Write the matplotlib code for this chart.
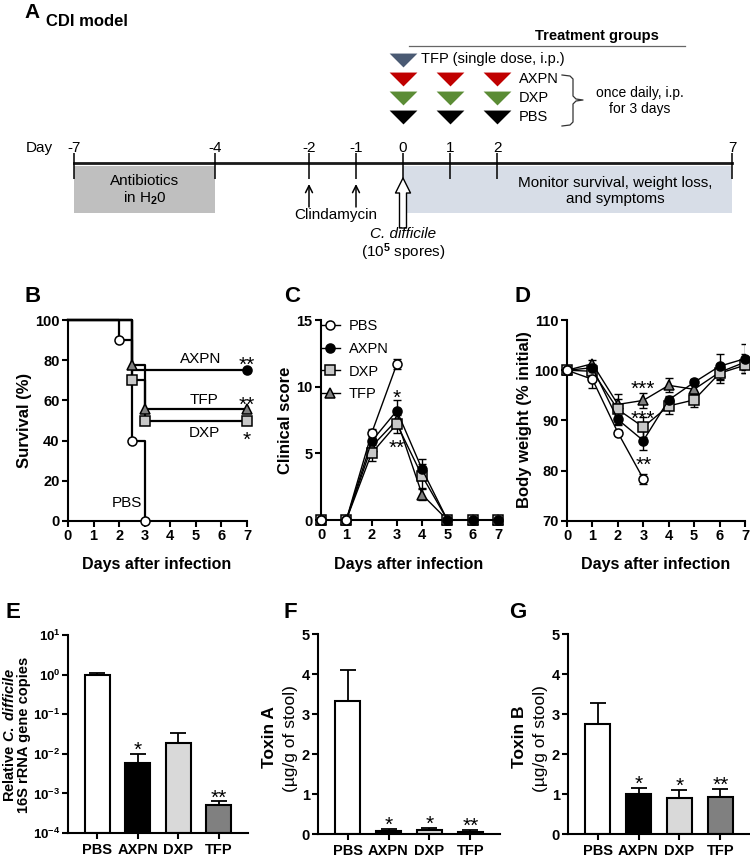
import matplotlib
matplotlib.use('Agg')
import matplotlib.pyplot as plt
from matplotlib.patches import Rectangle
from matplotlib.ticker import NullLocator
import numpy as np

plt.rcParams.update({
    'font.family': ['Liberation Sans', 'DejaVu Sans'],
    'font.weight': 'bold',
    'mathtext.fontset': 'custom',
    'mathtext.rm': 'Liberation Sans',
    'mathtext.it': 'Liberation Sans:italic:bold',
    'mathtext.bf': 'Liberation Sans:bold',
    'axes.linewidth': 1.5,
})

# ---------------- data ----------------
groups = ['PBS', 'AXPN', 'DXP', 'TFP']

# Panel A (study design, in days)
timeline_days = [-7, -4, -2, -1, 0, 1, 2, 7]
antibiotic_days = [-7, -4]
monitor_days = [0, 7]
clindamycin_days = [-2, -1]
infection_day = 0
tfp_dose_days = [0]
daily_dose_days = [0, 1, 2]
daily_groups = ['AXPN', 'DXP', 'PBS']

# Panel B: survival (%)
surv_PBS_t = [0, 2, 2.5, 3]
surv_PBS = [100, 90, 40, 0]
surv_AXPN_t = [0, 2.5, 7]
surv_AXPN = [100, 75, 75]
surv_DXP_t = [0, 2.5, 3, 7]
surv_DXP = [100, 70, 50, 50]
surv_TFP_t = [0, 2.5, 3, 7]
surv_TFP = [100, 77.8, 55.6, 55.6]

# Panel C: clinical score
days = [0, 1, 2, 3, 4, 5, 6, 7]
clin_PBS = [0, 0, 6.5, 11.7]
clin_PBS_err = [0, 0, 0.3, 0.4]
clin_AXPN = [0, 0, 5.9, 8.2, 3.8, 0, 0, 0]
clin_AXPN_err = [0, 0, 0.5, 0.8, 0.8, 0, 0, 0]
clin_DXP = [0, 0, 5.0, 7.2, 3.3, 0, 0, 0]
clin_DXP_err = [0, 0, 0.6, 0.7, 0.9, 0, 0, 0]
clin_TFP = [0, 0, 5.5, 7.5, 1.9, 0, 0, 0]
clin_TFP_err = [0, 0, 0.5, 0.6, 0.4, 0, 0, 0]

# Panel D: body weight (% initial)
wt_PBS = [100, 98.2, 87.6, 78.4]
wt_PBS_err = [0, 1.8, 0.5, 1.0]
wt_AXPN = [100, 100.5, 90.2, 86.0, 94.1, 97.6, 100.8, 102.3]
wt_AXPN_err = [0, 0.8, 0.8, 1.9, 0.8, 0.6, 2.5, 2.9]
wt_DXP = [100, 99.8, 92.2, 88.7, 92.9, 94.1, 99.4, 101.0]
wt_DXP_err = [0, 1.0, 3.0, 2.0, 1.6, 1.4, 1.9, 1.6]
wt_TFP = [100, 101.3, 93.2, 94.0, 97.0, 96.2, 99.6, 101.6]
wt_TFP_err = [0, 0.8, 1.0, 1.5, 1.4, 1.0, 1.5, 1.6]

# Panel E: relative C. difficile 16S rRNA copies
cdiff_rel = [1.0, 0.0058, 0.019, 0.00052]
cdiff_err = [0.12, 0.0040, 0.014, 0.00011]
stars_E = ['', '*', '', '**']
# Panel F: toxin A (ug/g stool)
toxA = [3.33, 0.08, 0.10, 0.05]
toxA_err = [0.77, 0.05, 0.06, 0.05]
stars_F = ['', '*', '*', '**']
# Panel G: toxin B (ug/g stool)
toxB = [2.75, 1.0, 0.9, 0.92]
toxB_err = [0.52, 0.15, 0.2, 0.2]
stars_G = ['', '*', '*', '**']

# significance marks (day, y, text)
stars_B = [(7, 81.0, '**'), (7, 61.0, '**'), (7, 43.5, '*')]
stars_C = [(3, 9.6, '*'), (3, 5.9, '**')]
stars_D = [(3, 97.6, '***'), (3, 91.5, '***'), (3, 82.5, '**')]

# ---------------- styles ----------------
bar_colors = ['white', 'black', '#d9d9d9', '#808080']
mk = {'PBS': dict(marker='o', mfc='white'),
      'AXPN': dict(marker='o', mfc='black'),
      'DXP': dict(marker='s', mfc='#c8c8c8'),
      'TFP': dict(marker='^', mfc='#808080')}
STAR_FS = 15
TICK_FS = 10.5

W, H = 750, 861
fig = plt.figure(figsize=(W / 100, H / 100), dpi=100)


def rect(x0, y0, x1, y1):
    return [x0 / W, 1 - y1 / H, (x1 - x0) / W, (y1 - y0) / H]


def ftext(px, py, s, **kw):
    kw.setdefault('ha', 'center')
    kw.setdefault('va', 'center')
    return fig.text(px / W, 1 - py / H, s, **kw)


def style(ax):
    ax.spines['top'].set_visible(False)
    ax.spines['right'].set_visible(False)
    ax.tick_params(axis='both', width=1.5, length=4.5, labelsize=TICK_FS, pad=1.5)


def star(ax, x, y, s, dy=-4.8, **kw):
    ax.annotate(s, (x, y), xytext=(0, dy), textcoords='offset points',
                ha='center', va='center', fontsize=STAR_FS, fontweight='normal',
                annotation_clip=False, **kw)


# ================= Panel A =================
D0, PPD = 403.0, 47.0


def px2day(p):
    return (p - D0) / PPD


axA = fig.add_axes(rect(0, 0, W, 262))
axA.set_xlim(px2day(0), px2day(W))
axA.set_ylim(262, 0)
axA.axis('off')

ftext(24, 13, 'A', fontsize=15, ha='left')
ftext(46, 22, 'CDI model', fontsize=12, ha='left')

axA.text(px2day(597), 36, 'Treatment groups', ha='center', va='center', fontsize=10.5)
axA.plot([px2day(409), px2day(685)], [46, 46], color='#666666', lw=0.9)

tri = [(-1, 0.5), (1, 0.5), (0, -0.5), (-1, 0.5)]
axA.plot(tfp_dose_days, [60] * len(tfp_dose_days), ls='none', marker=tri, ms=20,
         color='#4a5a73', mec='none')
axA.text(px2day(421), 59, 'TFP (single dose, i.p.)', ha='left', va='center',
         fontsize=10.5, fontweight='normal')
for grp, yy, col in zip(daily_groups, [79, 98, 117], ['#c00000', '#5b8c35', 'black']):
    axA.plot(daily_dose_days, [yy] * len(daily_dose_days), ls='none', marker=tri,
             ms=20, color=col, mec='none')
    axA.text(px2day(519), yy, grp, ha='left', va='center', fontsize=10.5,
             fontweight='normal')

brace_px = [(562, 75), (570, 76), (573, 79), (573, 96), (576, 99), (583, 100),
            (576, 101), (573, 104), (573, 122), (570, 125), (562, 126)]
axA.plot([px2day(p[0]) for p in brace_px], [p[1] for p in brace_px], color='#333333', lw=0.9)
axA.text(px2day(640), 93, 'once daily, i.p.', ha='center', va='center', fontsize=10,
         fontweight='normal')
axA.text(px2day(640), 109, 'for 3 days', ha='center', va='center', fontsize=10,
         fontweight='normal')

axA.add_patch(Rectangle((antibiotic_days[0], 166), antibiotic_days[1] - antibiotic_days[0], 47,
                        fc='#bfbfbf', ec='none'))
axA.add_patch(Rectangle((monitor_days[0], 166), monitor_days[1] - monitor_days[0], 47,
                        fc='#d7dde7', ec='none'))
axA.plot([timeline_days[0], timeline_days[-1]], [163, 163], color='#1a1a1a', lw=2)
axA.vlines(timeline_days, 153, 179, color='black', lw=1.1)
for d in timeline_days:
    axA.text(d, 148, str(d), ha='center', va='center', fontsize=11, fontweight='normal')
axA.text(px2day(26), 148, 'Day', ha='left', va='center', fontsize=11, fontweight='normal')

axA.text(np.mean(antibiotic_days), 181, 'Antibiotics', ha='center', va='center',
         fontsize=11, fontweight='normal')
axA.text(np.mean(antibiotic_days), 198, r'in H$_2$0', ha='center', va='center',
         fontsize=11, fontweight='normal')
axA.text(px2day(615), 183, 'Monitor survival, weight loss,', ha='center', va='center',
         fontsize=11, fontweight='normal')
axA.text(px2day(615), 199, 'and symptoms', ha='center', va='center',
         fontsize=11, fontweight='normal')

for d in clindamycin_days:
    axA.annotate('', xy=(d, 184), xytext=(d, 207),
                 arrowprops=dict(arrowstyle='->,head_length=0.5,head_width=0.25',
                                 lw=1.1, color='black', shrinkA=0, shrinkB=0))
axA.text(px2day(336), 215, 'Clindamycin', ha='center', va='center', fontsize=11,
         fontweight='normal')
axA.annotate('', xy=(infection_day, 178), xytext=(infection_day, 228),
             arrowprops=dict(arrowstyle='simple,head_length=0.9,head_width=0.9,tail_width=0.42',
                             fc='white', ec='black', lw=1, shrinkA=0, shrinkB=0,
                             mutation_scale=12))
axA.text(infection_day, 234, 'C. difficile', ha='center', va='center', fontsize=11,
         fontweight='normal', fontstyle='italic')
axA.text(infection_day, 252, r'(10$^5$ spores)', ha='center', va='center', fontsize=11,
         fontweight='normal')

# ================= Panel B =================
axB = fig.add_axes(rect(68, 320, 247, 521))
style(axB)
axB.set_xlim(0, 7)
axB.set_ylim(0, 100)
axB.set_xticks(range(8))
axB.set_yticks(range(0, 101, 20))
surv_sets = [('AXPN', surv_AXPN_t, surv_AXPN, 2), ('TFP', surv_TFP_t, surv_TFP, 1),
             ('DXP', surv_DXP_t, surv_DXP, 1), ('PBS', surv_PBS_t, surv_PBS, 1)]
for g, t, s, first in surv_sets:
    axB.step(t, s, where='post', color='black', lw=1.6, zorder=2, clip_on=False)
for g, t, s, first in surv_sets:
    axB.plot(t[first:], s[first:], ls='none', ms=6.5, mec='black', mew=1.1,
             zorder=4, clip_on=False, **mk[g])
axB.text(5.18, 80.5, 'AXPN', ha='center', va='center', fontsize=11, fontweight='normal')
axB.text(5.33, 60, 'TFP', ha='center', va='center', fontsize=11, fontweight='normal')
axB.text(5.33, 44, 'DXP', ha='center', va='center', fontsize=11, fontweight='normal')
axB.text(2.3, 9, 'PBS', ha='center', va='center', fontsize=11, fontweight='normal')
for x, y, s in stars_B:
    star(axB, x, y, s)


def line_err(ax, x, y, e, g):
    n = len(y)
    ax.plot(x[:n], y, color='black', lw=1, ms=6.5, mec='black', mew=1.1, zorder=3,
            clip_on=False, label=g, **mk[g])
    idx = [i for i in range(n) if e[i] > 0]
    ax.errorbar([x[i] for i in idx], [y[i] for i in idx], yerr=[e[i] for i in idx],
                fmt='none', ecolor='black', elinewidth=1, capsize=3, capthick=1, zorder=2)


# ================= Panel C =================
axC = fig.add_axes(rect(321, 320, 498, 520))
style(axC)
axC.set_xlim(0, 7)
axC.set_ylim(0, 15)
axC.set_xticks(range(8))
axC.set_yticks([0, 5, 10, 15])
line_err(axC, days, clin_TFP, clin_TFP_err, 'TFP')
line_err(axC, days, clin_DXP, clin_DXP_err, 'DXP')
line_err(axC, days, clin_AXPN, clin_AXPN_err, 'AXPN')
line_err(axC, days, clin_PBS, clin_PBS_err, 'PBS')
hd, lb = axC.get_legend_handles_labels()
order = [lb.index(g) for g in groups]
axC.legend([hd[i] for i in order], [lb[i] for i in order], loc='upper left',
           bbox_to_anchor=(0.0, 1.005), frameon=False, borderaxespad=0, borderpad=0,
           handlelength=1.3, handletextpad=0.6, labelspacing=0.6,
           prop={'size': 10.5, 'weight': 'normal'})
for x, y, s in stars_C:
    star(axC, x, y, s)

# ================= Panel D =================
axD = fig.add_axes(rect(567, 320, 745, 521))
style(axD)
axD.set_xlim(0, 7)
axD.set_ylim(70, 110)
axD.set_xticks(range(8))
axD.set_yticks(range(70, 111, 10))
line_err(axD, days, wt_TFP, wt_TFP_err, 'TFP')
line_err(axD, days, wt_DXP, wt_DXP_err, 'DXP')
line_err(axD, days, wt_AXPN, wt_AXPN_err, 'AXPN')
line_err(axD, days, wt_PBS, wt_PBS_err, 'PBS')
for x, y, s in stars_D:
    star(axD, x, y, s)

for cx in (157, 409, 656):
    ftext(cx, 565, 'Days after infection', fontsize=11.5)
ftext(25, 420, 'Survival (%)', rotation=90, fontsize=12)
ftext(286, 420, 'Clinical score', rotation=90, fontsize=12)
ftext(525, 420, 'Body weight (% initial)', rotation=90, fontsize=12)


# ================= Panels E-G =================
def bars(ax, vals, errs, stars, log=False):
    style(ax)
    x = np.arange(len(groups))
    base = 1e-4 if log else 0
    ax.bar(x, np.array(vals) - base, bottom=base, width=0.62, color=bar_colors,
           edgecolor='black', linewidth=1.5, zorder=2)
    ax.errorbar(x, vals, yerr=[np.zeros(len(vals)), errs], fmt='none', ecolor='black',
                elinewidth=1.3, capsize=6, capthick=1.3, zorder=1)
    for i, s in enumerate(stars):
        if s:
            star(ax, x[i], vals[i] + errs[i], s, dy=2.5)
    ax.set_xticks(x)
    ax.set_xticklabels(groups)
    ax.set_xlim(-0.72, len(groups) - 0.28)
    ax.tick_params(axis='x', pad=3)


axE = fig.add_axes(rect(68, 635, 248, 833))
axE.set_yscale('log')
bars(axE, cdiff_rel, cdiff_err, stars_E, log=True)
axE.set_ylim(1e-4, 10)
axE.set_yticks([1e-4, 1e-3, 1e-2, 1e-1, 1, 10])
axE.yaxis.set_minor_locator(NullLocator())
axE.tick_params(axis='y', labelsize=9.5, pad=1)

axF = fig.add_axes(rect(318, 634, 500, 834))
bars(axF, toxA, toxA_err, stars_F)
axF.set_ylim(0, 5)
axF.set_yticks(range(6))

axG = fig.add_axes(rect(568, 634, 750, 834))
bars(axG, toxB, toxB_err, stars_G)
axG.set_ylim(0, 5)
axG.set_yticks(range(6))

ftext(10, 735, r'Relative $\mathit{C.\ difficile}$', rotation=90, fontsize=10.5)
ftext(24.5, 735, '16S rRNA gene copies', rotation=90, fontsize=10.5)
ftext(269, 737, 'Toxin A', rotation=90, fontsize=12.5)
ftext(290, 739, '(µg/g of stool)', rotation=90, fontsize=12.5, fontweight='normal')
ftext(519, 737, 'Toxin B', rotation=90, fontsize=12.5)
ftext(540, 739, '(µg/g of stool)', rotation=90, fontsize=12.5, fontweight='normal')

# panel letters
for lx, ly, L in [(33, 297, 'B'), (292, 297, 'C'), (522, 297, 'D'),
                  (13, 613, 'E'), (290, 613, 'F'), (518, 613, 'G')]:
    ftext(lx, ly, L, fontsize=16)

fig.savefig('out.png', dpi=100)
